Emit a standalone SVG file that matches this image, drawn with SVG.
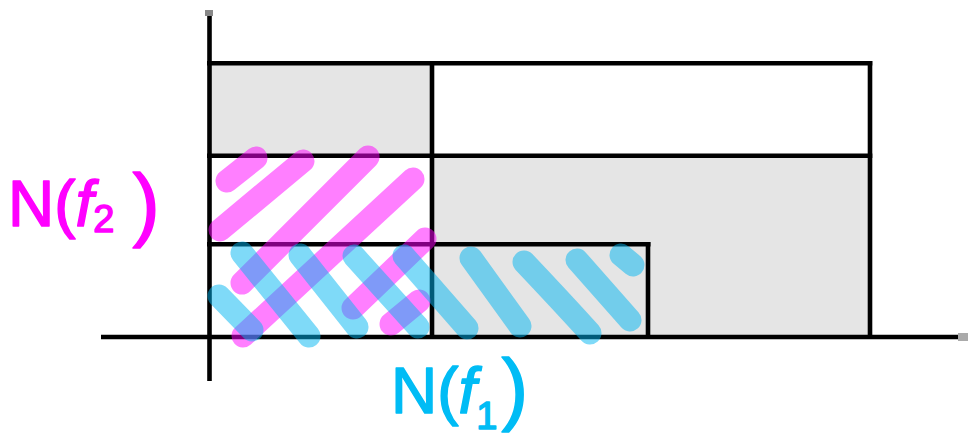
<svg xmlns="http://www.w3.org/2000/svg" width="970" height="438" viewBox="0 0 970 438">
<style>
.fill{fill:#e5e5e5;stroke:none}
.ln{stroke:#000;stroke-width:4.6;fill:none;stroke-linecap:butt}
.mg{stroke:#ff00ff;stroke-opacity:0.5;stroke-width:23;stroke-linecap:round;fill:none}
.cy{stroke:#00b6f2;stroke-opacity:0.5;stroke-width:23;stroke-linecap:round;fill:none}
.lbl{font-family:"Liberation Sans",Arial,sans-serif;font-size:64px;stroke-width:1.5;stroke-linejoin:round}
</style>
<rect width="970" height="438" fill="#fff"/>
<g id="cells">
<rect class="fill" x="209" y="63" width="223" height="92"/>
<rect class="fill" x="432" y="155" width="438" height="182"/>
</g>
<g id="axes">
<line class="ln" x1="209.5" y1="14" x2="209.5" y2="381"/>
<line class="ln" x1="101" y1="337" x2="966" y2="337"/>
<rect x="205" y="10" width="8" height="6" fill="#888"/>
<rect x="958" y="333" width="10" height="8" fill="#aaa"/>
</g>
<g id="grid">
<line class="ln" x1="207" y1="63.3" x2="872.3" y2="63.3"/>
<line class="ln" x1="207" y1="155.7" x2="872.3" y2="155.7"/>
<line class="ln" x1="207" y1="244.3" x2="650.5" y2="244.3"/>
<line class="ln" x1="432" y1="61" x2="432" y2="337"/>
<line class="ln" x1="870" y1="61" x2="870" y2="337"/>
<line class="ln" x1="648" y1="242" x2="648" y2="337"/>
</g>
<g id="hatch-f2">
<line class="mg" x1="227" y1="181" x2="256" y2="158"/>
<line class="mg" x1="220" y1="230" x2="303" y2="161"/>
<line class="mg" x1="242" y1="283" x2="368" y2="157"/>
<line class="mg" x1="243" y1="336" x2="413" y2="179"/>
<line class="mg" x1="353" y1="308" x2="425" y2="239"/>
<line class="mg" x1="391" y1="324" x2="419" y2="301"/>
</g>
<g id="hatch-f1">
<line class="cy" x1="219" y1="296" x2="252" y2="330"/>
<line class="cy" x1="242" y1="253" x2="309" y2="336"/>
<line class="cy" x1="300" y1="255" x2="357" y2="327"/>
<line class="cy" x1="354" y1="256" x2="418" y2="327"/>
<line class="cy" x1="404" y1="256" x2="467" y2="328"/>
<line class="cy" x1="471" y1="258" x2="520" y2="326"/>
<path class="cy" d="M524 262 Q560 300 590 333"/>
<line class="cy" x1="577" y1="260" x2="630" y2="320"/>
<line class="cy" x1="621" y1="255" x2="633" y2="265"/>
</g>
<g id="label-f2">
<text class="lbl" x="8" y="226" fill="#ff00ff" stroke="#ff00ff">N(<tspan font-style="italic">f</tspan><tspan font-size="38" dy="6">2</tspan><tspan dx="18" dy="-1" font-size="82">)</tspan></text>
</g>
<g id="label-f1">
<text class="lbl" x="391" y="413" fill="#00bcf5" stroke="#00bcf5">N(<tspan font-style="italic">f</tspan><tspan font-size="38" dy="16">1</tspan><tspan dx="4" dy="-14" font-size="80">)</tspan></text>
</g>
</svg>
